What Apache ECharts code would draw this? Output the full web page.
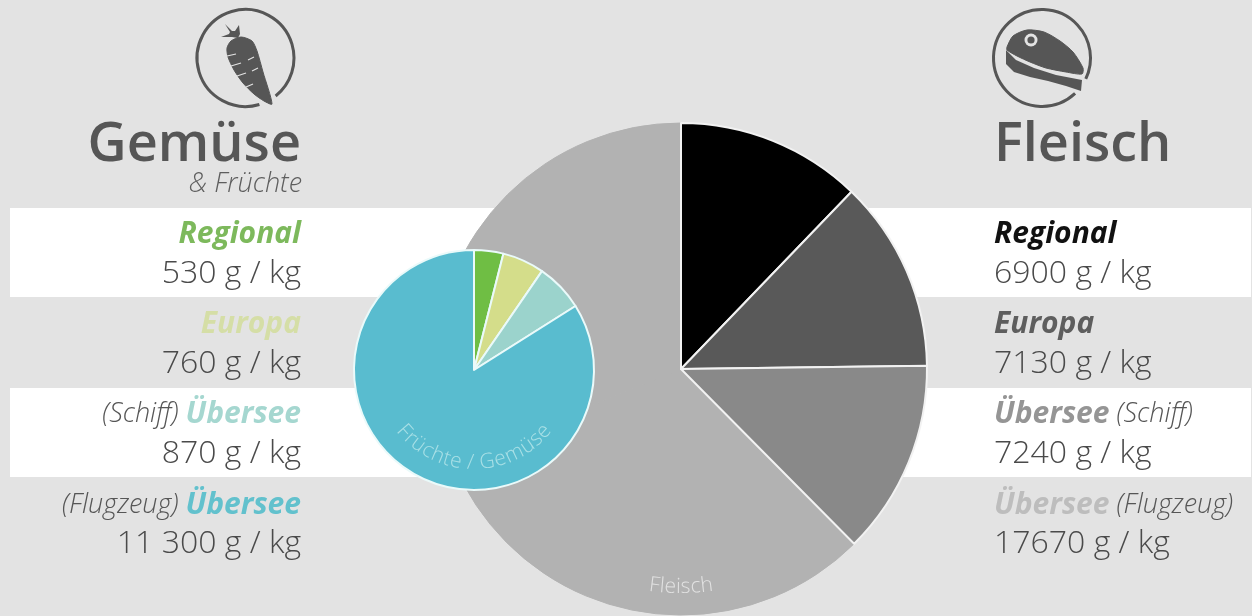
<!DOCTYPE html>
<html lang="de">
<head>
<meta charset="utf-8">
<title>Gemüse und Fleisch</title>
<style>html,body{margin:0;padding:0;background:#e3e3e3}#chart{width:1252px;height:616px}</style>
<script src="https://cdn.jsdelivr.net/npm/echarts@6/dist/echarts.min.js"></script>
</head>
<body>
<div id="chart"></div>
<script>
// Food categories, transport routes and g CO2 per kg
const plantValues = [530, 760, 870, 11300];
const plantLabels = ['530 g / kg', '760 g / kg', '870 g / kg', '11 300 g / kg'];
const plantColors = ['#6fbe44', '#d4dd8a', '#9bd3cc', '#59bccf'];
const plantRouteColors = ['#7db95c', '#d5dea6', '#a5d7d0', '#62c1cd'];

const meatValues = [6900, 7130, 7240, 17670];
const meatLabels = ['6900 g / kg', '7130 g / kg', '7240 g / kg', '17670 g / kg'];
const meatColors = ['#000000', '#595959', '#898989', '#b2b2b2'];
const meatRouteColors = ['#111111', '#5e5e5e', '#959595', '#bdbdbd'];
// The grey sector runs on past the air-freight share; this unlabelled part has no printed figure
const meatUnlabelledPart = 17670;

const routes = ['Regional', 'Europa', 'Übersee', 'Übersee'];
const routeNotes = ['', '', '(Schiff)', '(Flugzeug)'];
const routeRows = [234, 324, 414, 505];
const valueRows = [274, 364, 454, 544];

const FONT = '"Open Sans", sans-serif';
const INK = '#565656';
const VALUE_INK = '#4a4a4a';
const BG = '#e3e3e3';

const chart = echarts.init(document.getElementById('chart'), null, { renderer: 'canvas' });

const measure = document.createElement('canvas').getContext('2d');

// Places a caption letter by letter along the lower part of a circle
function arcText(text, cx, cy, radius, font, fill) {
  measure.font = font;
  const total = measure.measureText(text).width;
  let run = -total / 2;
  const parts = [];
  for (const ch of text) {
    const w = measure.measureText(ch).width;
    const a = (run + w / 2) / radius;
    parts.push({
      type: 'text', z: 20,
      x: cx + radius * Math.sin(a),
      y: cy + radius * Math.cos(a),
      rotation: a,
      style: { text: ch, font, fill, align: 'center', verticalAlign: 'middle' }
    });
    run += w;
  }
  return parts;
}

function text(x, y, str, font, fill, align) {
  return { type: 'text', z: 20, x, y, style: { text: str, font, fill, align, verticalAlign: 'middle' } };
}

const routeFont = 'italic 700 30px ' + FONT;
const noteFont = 'italic 300 27px ' + FONT;
const valueFont = '300 32px ' + FONT;

const leftText = [], rightText = [];
routes.forEach((r, i) => {
  leftText.push({
    type: 'text', z: 20, x: 301, y: routeRows[i],
    style: {
      text: (routeNotes[i] ? '{n|' + routeNotes[i] + ' }' : '') + '{r|' + r + '}',
      align: 'right', verticalAlign: 'middle',
      rich: {
        r: { font: routeFont, fill: plantRouteColors[i], color: plantRouteColors[i] },
        n: { font: noteFont, fill: INK, color: INK }
      }
    }
  });
  leftText.push(text(301, valueRows[i], plantLabels[i], valueFont, VALUE_INK, 'right'));
  rightText.push({
    type: 'text', z: 20, x: 994, y: routeRows[i],
    style: {
      text: '{r|' + r + '}' + (routeNotes[i] ? '{n| ' + routeNotes[i] + '}' : ''),
      align: 'left', verticalAlign: 'middle',
      rich: {
        r: { font: routeFont, fill: meatRouteColors[i], color: meatRouteColors[i] },
        n: { font: noteFont, fill: INK, color: INK }
      }
    }
  });
  rightText.push(text(994, valueRows[i], meatLabels[i], valueFont, VALUE_INK, 'left'));
});

// Circular icon frames, each with a gap where the motif breaks through
const iconFrames = [
  { type: 'arc', z: 5, shape: { cx: 245.5, cy: 58, r: 48.5, startAngle: 1.28, endAngle: 0.9 + 6.283, clockwise: true },
    style: { fill: null, stroke: INK, lineWidth: 3 } },
  { type: 'arc', z: 5, shape: { cx: 1042, cy: 58, r: 48.5, startAngle: 0.82, endAngle: 0.446 + 6.283, clockwise: true },
    style: { fill: null, stroke: INK, lineWidth: 3 } }
];

const carrotBody = [[231, 41], [241, 37], [252, 41], [257, 51], [263, 72], [272, 104], [264, 101], [254, 94], [243, 83], [234, 70], [228, 57], [227, 48]];
const carrotLeaves = [[225, 24], [232, 31], [235, 31], [239, 25], [240, 34], [238, 38], [232, 37], [221, 37], [229, 34], [230, 32]];
const carrotCuts = [
  [[227, 56], [236, 54]], [[231, 66], [241, 63]], [[254, 57], [248, 60]],
  [[237, 76], [246, 73]], [[258, 68], [252, 71]], [[246, 87], [253, 84]]
];
const steakTop = [[1007, 47], [1013, 36], [1027, 30], [1044, 32], [1060, 41], [1073, 52], [1083, 68], [1082, 74], [1066, 72], [1046, 68], [1030, 62], [1017, 56], [1007, 50]];
const steakBottom = [[1006, 50], [1016, 60], [1034, 68], [1056, 75], [1082, 80], [1081, 91], [1066, 86], [1048, 81], [1030, 77], [1014, 72], [1006, 64]];

const icons = [
  { type: 'polygon', z: 6, shape: { points: carrotBody, smooth: 0.25 }, style: { fill: INK, stroke: INK, lineWidth: 1, lineJoin: 'round' } },
  { type: 'polygon', z: 6, shape: { points: carrotLeaves }, style: { fill: INK } },
  ...carrotCuts.map(points => ({ type: 'polyline', z: 7, shape: { points }, style: { fill: null, stroke: BG, lineWidth: 1.2 } })),
  { type: 'polygon', z: 6, shape: { points: steakTop, smooth: 0.25 }, style: { fill: INK, stroke: INK, lineWidth: 1, lineJoin: 'round' } },
  { type: 'polygon', z: 6, shape: { points: steakBottom }, style: { fill: INK } },
  { type: 'circle', z: 7, shape: { cx: 1031, cy: 40, r: 6.5 }, style: { fill: BG } },
  { type: 'circle', z: 8, shape: { cx: 1031, cy: 40, r: 3.6 }, style: { fill: INK } }
];

const bands = [
  { type: 'rect', z: -10, shape: { x: 10, y: 208, width: 1241, height: 89 }, style: { fill: '#ffffff' } },
  { type: 'rect', z: -10, shape: { x: 10, y: 388, width: 1241, height: 89 }, style: { fill: '#ffffff' } }
];

// Grey parts come first so the white separators of the darker slices stay on top;
// their own-coloured outline closes the joint between them
const greyStyle = { color: meatColors[3], borderColor: meatColors[3], borderWidth: 1 };
const meatData = [
  { name: 'Übersee (Flugzeug)', value: meatValues[3], itemStyle: greyStyle },
  { name: 'Fleisch', value: meatUnlabelledPart, itemStyle: greyStyle },
  { name: 'Regional', value: meatValues[0], itemStyle: { color: meatColors[0] } },
  { name: 'Europa', value: meatValues[1], itemStyle: { color: meatColors[1] } },
  { name: 'Übersee (Schiff)', value: meatValues[2], itemStyle: { color: meatColors[2] } }
];
const plantData = plantValues.map((v, i) => ({
  name: routes[i] + routeNotes[i], value: v, itemStyle: { color: plantColors[i] }
}));

const meatSum = meatValues.reduce((a, b) => a + b, 0) + meatUnlabelledPart;
const greySweep = (meatValues[3] + meatUnlabelledPart) / meatSum * 360;

chart.setOption({
  animation: false,
  backgroundColor: BG,
  tooltip: { show: false },
  series: [
    {
      type: 'pie', z: 2, silent: true, center: [681, 369], radius: [0, 246],
      startAngle: 90 + greySweep, clockwise: true, label: { show: false }, labelLine: { show: false },
      itemStyle: { borderColor: '#f2f2f2', borderWidth: 2 },
      data: meatData
    },
    {
      type: 'pie', z: 3, silent: true, center: [474, 370], radius: [0, 120],
      startAngle: 90, clockwise: true, label: { show: false }, labelLine: { show: false },
      itemStyle: { borderColor: '#eafafa', borderWidth: 2 },
      data: plantData
    }
  ],
  graphic: {
    elements: [
      ...bands, ...iconFrames, ...icons,
      text(301, 146, 'Gemüse', '600 54px ' + FONT, INK, 'right'),
      text(302, 184, '& Früchte', 'italic 300 27px ' + FONT, '#5e5e5e', 'right'),
      text(994, 146, 'Fleisch', '600 54px ' + FONT, INK, 'left'),
      ...leftText, ...rightText,
      ...arcText('Fleisch', 681, 369, 218, '300 21px ' + FONT, '#e2e2e2'),
      ...arcText('Früchte / Gemüse', 474, 370, 93, '300 21px ' + FONT, '#a9e0e6')
    ]
  }
});
</script>
</body>
</html>
